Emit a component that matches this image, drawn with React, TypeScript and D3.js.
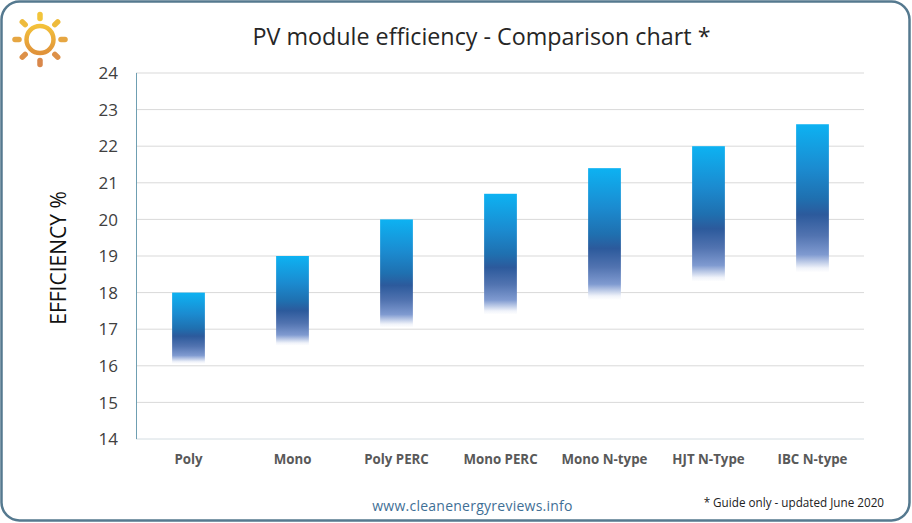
import React from "react";
import * as d3 from "d3";

const categories = ["Poly", "Mono", "Poly PERC", "Mono PERC", "Mono N-type", "HJT N-Type", "IBC N-type"];
const maxValues = [18, 19, 20, 20.7, 21.4, 22, 22.6];
const minValues = [16.05, 16.55, 17.05, 17.4, 17.8, 18.3, 18.55];
const yTicks = [14, 15, 16, 17, 18, 19, 20, 21, 22, 23, 24];
const rayAngles = [0, 45, 90, 135, 180, 225, 270, 315];

const FONT = "'Open Sans', 'Noto Sans', sans-serif";

const x = d3.scaleBand<string>().domain(categories).range([136.5, 864.5]).paddingInner(0.685).paddingOuter(0.3425);
const y = d3.scaleLinear().domain([14, 24]).range([439, 73]);

const App = () => {
  const rayColor = d3
    .scaleLinear<string>()
    .domain([-1, 1])
    .range(["#f2c43a", "#d9874a"]);

  return (
    <svg width={912} height={523} style={{ position: "absolute", left: 0, top: 0, fontFamily: FONT }}>
      <defs>
        <linearGradient id="barFill" x1="0" y1="0" x2="0" y2="1">
          <stop offset="0" stopColor="#0db2f2" />
          <stop offset="0.3" stopColor="#1b8bd0" />
          <stop offset="0.5" stopColor="#1f70b0" />
          <stop offset="0.61" stopColor="#2c5a9c" />
          <stop offset="0.75" stopColor="#5173b0" />
          <stop offset="0.88" stopColor="#7f9ad0" />
          <stop offset="0.97" stopColor="#f0f3fa" />
          <stop offset="1" stopColor="#ffffff" />
        </linearGradient>
        <linearGradient id="sunRing" x1="0" y1="0" x2="0" y2="1">
          <stop offset="0" stopColor="#f3c13a" />
          <stop offset="1" stopColor="#e0923a" />
        </linearGradient>
      </defs>

      <rect x={1.5} y={1.5} width={908} height={519} rx={18} fill="#ffffff" stroke="#55798f" strokeWidth={2.5} />

      <g transform="translate(40,39.5)">
        <circle r={13.5} fill="none" stroke="url(#sunRing)" strokeWidth={4.5} />
        {rayAngles.map((a) => (
          <line
            key={a}
            x1={0}
            y1={-21}
            x2={0}
            y2={-25}
            transform={`rotate(${a})`}
            stroke={rayColor(-Math.cos((a * Math.PI) / 180))}
            strokeWidth={5.5}
            strokeLinecap="round"
          />
        ))}
      </g>

      <text x={481.5} y={45} textAnchor="middle" fontSize={23.3} fill="#262626">
        PV module efficiency - Comparison chart *
      </text>

      {yTicks.slice(1).map((t) => (
        <line key={t} x1={136} x2={864} y1={y(t)} y2={y(t)} stroke="#d9d9d9" strokeWidth={1} />
      ))}
      <line x1={136} x2={864} y1={y(14)} y2={y(14)} stroke="#d4dde2" strokeWidth={1} />
      <line x1={136.5} x2={136.5} y1={y(24)} y2={y(14)} stroke="#6f9fb2" strokeWidth={1} />

      {yTicks.map((t) => (
        <text key={t} x={118} y={y(t)} dy="0.36em" textAnchor="end" fontSize={17} fill="#404040">
          {t}
        </text>
      ))}

      <text
        transform="translate(66,258) rotate(-90)"
        textAnchor="middle"
        fontSize={21}
        fill="#111111"
      >
        EFFICIENCY %
      </text>

      {categories.map((c, i) => (
        <rect
          key={c}
          x={x(c)}
          y={y(maxValues[i])}
          width={x.bandwidth()}
          height={y(minValues[i]) - y(maxValues[i])}
          fill="url(#barFill)"
        />
      ))}

      {categories.map((c) => (
        <text
          key={c}
          x={(x(c) as number) + x.bandwidth() / 2}
          y={464}
          textAnchor="middle"
          fontSize={13.3}
          fontWeight={700}
          fill="#595959"
        >
          {c}
        </text>
      ))}

      <text x={472.5} y={511} textAnchor="middle" fontSize={14} letterSpacing={0.25} fill="#3f6f96">
        www.cleanenergyreviews.info
      </text>
      <text x={884} y={507} textAnchor="end" fontSize={11.7} fill="#222222">
        * Guide only - updated June 2020
      </text>
    </svg>
  );
};

export default App;
